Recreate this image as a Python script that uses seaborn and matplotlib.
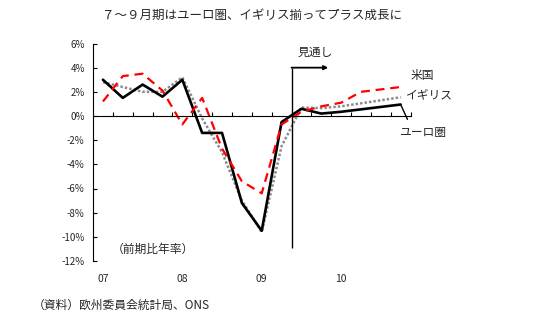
import matplotlib
matplotlib.use("Agg")
import matplotlib.pyplot as plt
import seaborn as sns
import pandas as pd

# Quarterly real GDP growth (annualised q/q, %), 2007Q1-2010Q4; 2009Q3 onwards is forecast
quarters = ["07Q1", "07Q2", "07Q3", "07Q4", "08Q1", "08Q2", "08Q3", "08Q4",
            "09Q1", "09Q2", "09Q3", "09Q4", "10Q1", "10Q2", "10Q3", "10Q4"]
euro = [3.0, 1.5, 2.6, 1.6, 3.0, -1.4, -1.4, -7.2, -9.5, -0.5, 0.6, 0.2, 0.35, 0.55, 0.75, 0.95]
us = [1.2, 3.3, 3.5, 2.1, -0.7, 1.5, -2.7, -5.4, -6.4, -0.7, 0.35, 0.8, 1.1, 2.0, 2.2, 2.4]
uk = [2.8, 2.4, 2.0, 2.0, 3.2, -0.2, -3.0, -7.0, -9.6, -2.5, 0.7, 0.65, 0.8, 1.05, 1.3, 1.55]

year_labels = ["07", "08", "09", "10"]
year_positions = [0, 4, 8, 12]
y_ticks = [-12, -10, -8, -6, -4, -2, 0, 2, 4, 6]
forecast_start = 9.5  # boundary between 09Q2 and 09Q3
forecast_arrow_y = 4.0

df = pd.DataFrame({"pos": range(len(quarters)), "quarter": quarters,
                   "euro": euro, "us": us, "uk": uk})

sns.set_style("white")
plt.rcParams["font.family"] = ["Noto Sans CJK JP", "DejaVu Sans"]

fig = plt.figure(figsize=(5.38, 3.25), dpi=100)
ax = fig.add_axes([93 / 538, 1 - 261 / 325, 317.6 / 538, (261 - 43.5) / 325])

sns.lineplot(data=df, x="pos", y="uk", ax=ax, color="#8c8c8c", lw=1.8,
             linestyle=(0, (1, 0.8)))
sns.lineplot(data=df, x="pos", y="euro", ax=ax, color="black", lw=1.9)
sns.lineplot(data=df, x="pos", y="us", ax=ax, color="#ff0000", lw=1.6,
             linestyle=(0, (4, 2.6)))

ax.set_xlim(-0.5, len(quarters) - 0.5)
ax.set_ylim(-12, 6)
ax.set_xlabel("")
ax.set_ylabel("")

# y axis: percent labels with inward ticks
ax.set_yticks(y_ticks)
ax.set_yticklabels([f"{t}%" for t in y_ticks])
ax.tick_params(axis="y", direction="in", length=3, width=0.8, pad=6,
               labelsize=7, left=True, color="black")

# category axis line runs through zero, ticks at quarter boundaries
ax.spines["bottom"].set_position(("data", 0))
ax.spines["bottom"].set_linewidth(0.8)
ax.spines["bottom"].set_color("black")
ax.spines["left"].set_linewidth(0.8)
ax.spines["left"].set_color("black")
ax.spines["top"].set_visible(False)
ax.spines["right"].set_visible(False)
ax.set_xticks([i + 0.5 for i in range(len(quarters))])
ax.set_xticklabels([])
ax.tick_params(axis="x", direction="in", length=3, width=0.8, bottom=True,
               color="black")

# year labels sit below the plot area
sec = ax.secondary_xaxis("bottom")
sec.set_xticks(year_positions)
sec.set_xticklabels(year_labels)
sec.tick_params(length=0, pad=9, labelsize=7.5)
sec.spines["bottom"].set_visible(False)

# forecast marker
ax.vlines(forecast_start, -10.9, forecast_arrow_y, color="black", lw=1.0)
ax.annotate("", xy=(11.35, forecast_arrow_y), xytext=(forecast_start, forecast_arrow_y),
            arrowprops=dict(arrowstyle="-|>", color="black", lw=1.3,
                            mutation_scale=6, shrinkA=0, shrinkB=0))
ax.text(10.68, 5.3, "見通し", ha="center", va="center", fontsize=8.5)

# series labels
ax.text(16.07, 3.39, "米国", ha="center", va="center", fontsize=8.5, clip_on=False)
ax.text(16.43, 1.74, "イギリス", ha="center", va="center", fontsize=8.5, clip_on=False)
ax.annotate("ユーロ圏", xy=(15, euro[-1]), xytext=(16.12, -1.4),
            ha="center", va="center", fontsize=8.5, annotation_clip=False,
            arrowprops=dict(arrowstyle="-", color="black", lw=1.0,
                            shrinkA=3, shrinkB=0, relpos=(0.24, 1.0)))

ax.text(0.44, -11.07, "（前期比年率）", ha="left", va="center", fontsize=8.5)

fig.text(252 / 538, 1 - 15 / 325, "７～９月期はユーロ圏、イギリス揃ってプラス成長に",
         ha="center", va="center", fontsize=9)
fig.text(33 / 538, 1 - 305 / 325, "（資料）欧州委員会統計局、ONS",
         ha="left", va="center", fontsize=8.5)

fig.savefig("out.png", dpi=100, facecolor="white")
